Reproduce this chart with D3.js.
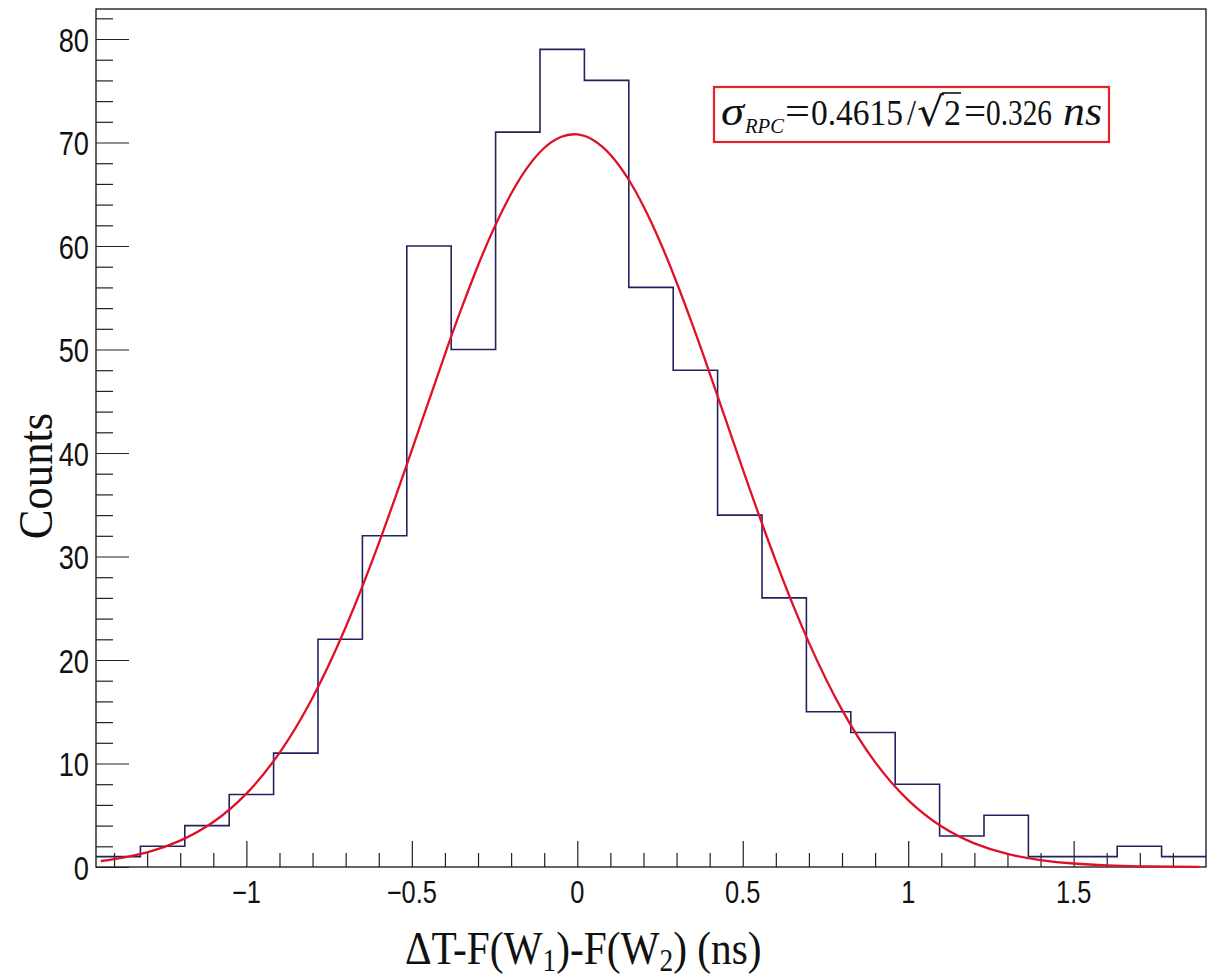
<!DOCTYPE html>
<html>
<head>
<meta charset="utf-8">
<script src="https://cdn.jsdelivr.net/npm/d3@7"></script>
<style>
  html, body { margin: 0; padding: 0; background: #fff; }
  svg { display: block; }
</style>
</head>
<body>
<svg id="chart" width="1211" height="978"></svg>
<script>
// ---- data ----
const xRange = [-1.4545, 1.900];          // histogram / axis range (ns)
const counts = [1, 2, 4, 7, 11, 22, 32, 60, 50, 71, 79, 76, 56, 48, 34, 26, 15, 13, 8, 3, 5, 1, 1, 2, 1];
const fitX = [-1.44, -1.4, -1.3, -1.2, -1.1, -1.0, -0.9, -0.8, -0.7, -0.6, -0.5, -0.4, -0.35, -0.3, -0.25, -0.2, -0.15, -0.1, -0.05, 0.0,
              0.05, 0.1, 0.15, 0.2, 0.25, 0.3, 0.35, 0.4, 0.5, 0.6, 0.7, 0.8, 0.9, 1.0, 1.1, 1.2, 1.3, 1.4, 1.5, 1.6, 1.7, 1.8, 1.88];
const fitY = [0.58, 0.76, 1.42, 2.55, 4.35, 7.09, 11.03, 16.36, 23.16, 31.27, 40.29, 49.54, 53.97, 58.12, 61.85, 65.05, 67.62, 69.47, 70.53, 70.78,
              70.20, 68.82, 66.67, 63.84, 60.41, 56.50, 52.23, 47.71, 38.45, 29.56, 21.68, 15.18, 10.13, 6.46, 3.93, 2.28, 1.26, 0.67, 0.34, 0.16, 0.07, 0.03, 0.02];
const xTickLabels = [-1, -0.5, 0, 0.5, 1, 1.5];
const yTickLabels = [0, 10, 20, 30, 40, 50, 60, 70, 80];
const yMax = 82.9;

// ---- layout ----
const L = 96, R = 1206, T = 9, B = 867;
const svg = d3.select("#chart");
const x = d3.scaleLinear().domain(xRange).range([L, R]);
const y = d3.scaleLinear().domain([0, yMax]).range([B, T]);

// frame
svg.append("rect").attr("x", L).attr("y", T).attr("width", R - L).attr("height", B - T)
  .attr("fill", "none").attr("stroke", "#111").attr("stroke-width", 1.3);

// x ticks (pointing up from the bottom axis)
const xMinor = d3.range(-14, 19).map(d => d / 10);
const xAxis = d3.axisBottom(x).tickValues(xMinor).tickSize(-14).tickFormat("");
const gx = svg.append("g").attr("transform", `translate(0,${B})`).call(xAxis);
gx.select(".domain").remove();
gx.selectAll(".tick line").attr("stroke", "#222").attr("stroke-width", 1.2)
  .attr("y2", d => (Math.abs(d * 2 - Math.round(d * 2)) < 1e-6 ? -26 : -14));

// x tick labels
const fmtX = d => (d < 0 ? "\u2212" : "") + Math.abs(d);
xTickLabels.forEach(d => {
  svg.append("text")
    .attr("transform", `translate(${x(d)},903) scale(0.82,1)`)
    .attr("text-anchor", "middle")
    .attr("font-family", "Liberation Sans, Arial, sans-serif")
    .attr("font-size", 31).attr("fill", "#111")
    .text(fmtX(d));
});

// y ticks (pointing right from the left axis)
const yMinor = d3.range(0, 83, 2);
const yAxis = d3.axisLeft(y).tickValues(yMinor).tickSize(-17).tickFormat("");
const gy = svg.append("g").attr("transform", `translate(${L},0)`).call(yAxis);
gy.select(".domain").remove();
gy.selectAll(".tick line").attr("stroke", "#222").attr("stroke-width", 1.2)
  .attr("x2", d => (d % 10 === 0 ? 33 : 17));

yTickLabels.forEach(d => {
  svg.append("text")
    .attr("transform", `translate(89,${y(d) + 12.5}) scale(0.8,1)`)
    .attr("text-anchor", "end")
    .attr("font-family", "Liberation Sans, Arial, sans-serif")
    .attr("font-size", 34).attr("fill", "#111")
    .text(d);
});

// histogram (step)
const binW = (xRange[1] - xRange[0]) / counts.length;
let p = d3.path();
counts.forEach((c, i) => {
  const x0 = x(xRange[0] + i * binW), x1 = x(xRange[0] + (i + 1) * binW);
  if (i === 0) p.moveTo(x0, y(c)); else p.lineTo(x0, y(c));
  p.lineTo(x1, y(c));
});
svg.append("path").attr("d", p.toString()).attr("fill", "none")
  .attr("stroke", "#23235f").attr("stroke-width", 1.6);

// fit curve
const line = d3.line().x((d, i) => x(fitX[i])).y(d => y(d)).curve(d3.curveNatural);
svg.append("path").datum(fitY).attr("d", line).attr("fill", "none")
  .attr("stroke", "#e01028").attr("stroke-width", 2.3);

// annotation box
svg.append("rect").attr("x", 714).attr("y", 87).attr("width", 395).attr("height", 55)
  .attr("fill", "#fff").attr("stroke", "#e8202a").attr("stroke-width", 2.2);
const serif = "Liberation Serif, Times New Roman, serif";
const pieces = [
  { t: "\u03C3", x: 721, y: 125, fs: 40, w: 23, it: true },
  { t: "RPC", x: 745, y: 133, fs: 22, w: 39, it: true },
  { t: "=", x: 785, y: 125, fs: 40, w: 25, it: false },
  { t: "0.4615", x: 811, y: 125, fs: 36, w: 92, it: false },
  { t: "/", x: 907, y: 125, fs: 36, w: 9, it: false },
  { t: "2", x: 944, y: 125, fs: 36, w: 17, it: false },
  { t: "=", x: 964, y: 125, fs: 40, w: 22, it: false },
  { t: "0.326", x: 986, y: 125, fs: 36, w: 66, it: false },
  { t: "ns", x: 1063, y: 125, fs: 39, w: 39, it: true }
];
pieces.forEach(d => {
  svg.append("text").attr("x", d.x).attr("y", d.y)
    .attr("font-family", serif).attr("font-size", d.fs)
    .attr("font-style", d.it ? "italic" : "normal").attr("fill", "#111")
    .attr("textLength", d.w).attr("lengthAdjust", "spacingAndGlyphs")
    .text(d.t);
});
svg.append("text").attr("x", 917).attr("y", 126)
  .attr("font-family", "DejaVu Serif, serif").attr("font-size", 40).attr("fill", "#111")
  .attr("textLength", 27).attr("lengthAdjust", "spacingAndGlyphs")
  .text("\u221A");
svg.append("line").attr("x1", 942).attr("x2", 961).attr("y1", 93).attr("y2", 93)
  .attr("stroke", "#111").attr("stroke-width", 1.6);

// axis titles
const xt = svg.append("text").attr("transform", "translate(405,964) scale(0.88,1)")
  .attr("font-family", serif).attr("font-size", 47).attr("fill", "#111");
xt.append("tspan").text("\u0394T-F(W");
xt.append("tspan").attr("font-size", 31).attr("dy", 7).text("1");
xt.append("tspan").attr("dy", -7).text(")-F(W");
xt.append("tspan").attr("font-size", 31).attr("dy", 7).text("2");
xt.append("tspan").attr("dy", -7).text(") (ns)");

svg.append("text").attr("transform", "translate(52,476) rotate(-90) scale(0.93,1)")
  .attr("text-anchor", "middle").attr("font-family", serif).attr("font-size", 48).attr("fill", "#111")
  .text("Counts");
</script>
</body>
</html>
